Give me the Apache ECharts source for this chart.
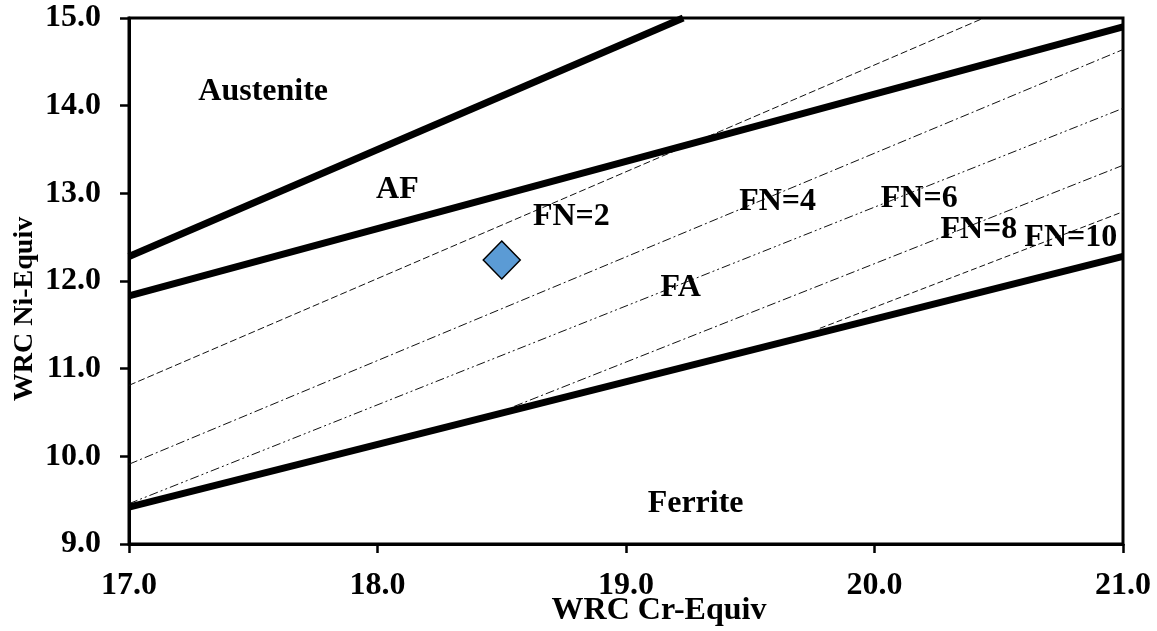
<!DOCTYPE html>
<html>
<head>
<meta charset="utf-8">
<script src="https://cdn.jsdelivr.net/npm/echarts@6/dist/echarts.min.js"></script>
<style>
html,body{margin:0;padding:0;background:#fff;}
#chart{width:1157px;height:631px;}
</style>
</head>
<body>
<div id="chart"></div>
<script>
// Axis ranges / ticks
const xRange = [17, 21];
const yRange = [9, 15];
const tickStep = 1;

// Phase boundaries (thick lines): [Cr-equiv, Ni-equiv]
const boundaryAustAF = [[17, 12.28], [19.23, 15.0]];
const boundaryAFFA = [[17, 11.83], [21, 14.90]];
const boundaryFAFerrite = [[17, 9.42], [21, 12.28]];

// Iso-ferrite-number lines (thin dashed)
const fn2 = [[17, 10.81], [20.44, 15.0]];
const fn4 = [[17, 9.91], [21, 14.64]];
const fn6 = [[17, 9.46], [21, 13.97]];
const fn8 = [[18.55, 10.57], [21, 13.32]];
const fn10 = [[19.78, 11.46], [21, 12.79]];

// Measured weld composition point
const weldPoint = [[18.5, 12.24]];

// Region / FN labels
const labelNames = ['Austenite', 'AF', 'FN=2', 'FN=4', 'FN=6', 'FN=8', 'FN=10', 'FA', 'Ferrite'];
const labelX = [17.54, 18.08, 18.78, 19.61, 20.18, 20.42, 20.79, 19.22, 19.28];
const labelY = [14.16, 13.04, 12.73, 12.90, 12.94, 12.59, 12.49, 11.92, 9.46];

const FONT = '"Liberation Serif", "Times New Roman", serif';

const chart = echarts.init(document.getElementById('chart'), null, {renderer: 'canvas'});

function thick(data) {
  return {type: 'line', data: data, symbol: 'none', silent: true, z: 3,
    lineStyle: {color: '#000', width: 7}};
}
function thin(data, dash) {
  return {type: 'line', data: data, symbol: 'none', silent: true, z: 2,
    lineStyle: {color: '#111', width: 1, type: dash}};
}

const labelData = labelNames.map((n, i) => ({name: n, value: [labelX[i], labelY[i]]}));

chart.setOption({
  animation: false,
  backgroundColor: '#fff',
  grid: {left: 129, right: 34, top: 18, bottom: 87, containLabel: false, outerBoundsMode: 'none',
    show: true, borderColor: '#000', borderWidth: 3, backgroundColor: 'transparent'},
  xAxis: {
    type: 'value', min: xRange[0], max: xRange[1], interval: tickStep,
    name: 'WRC Cr-Equiv', nameLocation: 'middle', nameGap: 51, nameMoveOverlap: false,
    nameTextStyle: {fontFamily: FONT, fontWeight: 'bold', fontSize: 32, color: '#000', padding: [0, 0, 0, 66]},
    axisLine: {lineStyle: {color: '#000', width: 3}},
    axisTick: {show: true, inside: false, length: 9, lineStyle: {color: '#000', width: 2.5}},
    axisLabel: {fontFamily: FONT, fontWeight: 'bold', fontSize: 32, color: '#000', margin: 26,
      formatter: v => v.toFixed(1)},
    splitLine: {show: false}
  },
  yAxis: {
    type: 'value', min: yRange[0], max: yRange[1], interval: tickStep,
    name: 'WRC Ni-Equiv', nameLocation: 'middle', nameGap: 90, nameRotate: 90, nameMoveOverlap: false,
    nameTextStyle: {fontFamily: FONT, fontWeight: 'bold', fontSize: 28, color: '#000', padding: [0, 56, 0, 0]},
    axisLine: {lineStyle: {color: '#000', width: 3}},
    axisTick: {show: true, inside: false, length: 9, lineStyle: {color: '#000', width: 2.5}},
    axisLabel: {fontFamily: FONT, fontWeight: 'bold', fontSize: 32, color: '#000', margin: 28,
      formatter: v => v.toFixed(1)},
    splitLine: {show: false}
  },
  series: [
    thin(fn2, [7, 3]),
    thin(fn4, [9, 3, 2, 3]),
    thin(fn6, [9, 3, 2, 3, 2, 3]),
    thin(fn8, [9, 3, 2, 3]),
    thin(fn10, [6, 3]),
    thick(boundaryAustAF),
    thick(boundaryAFFA),
    thick(boundaryFAFerrite),
    {type: 'scatter', data: weldPoint, symbol: 'diamond', symbolSize: [37, 38], z: 5,
      itemStyle: {color: '#5B9BD5', borderColor: '#000', borderWidth: 1.5, opacity: 1}},
    {type: 'scatter', data: labelData, symbolSize: 0, z: 6, silent: true,
      itemStyle: {opacity: 1},
      label: {show: true, position: 'inside', formatter: p => p.name, opacity: 1,
        fontFamily: FONT, fontWeight: 'bold', fontSize: 32, color: '#000',
        textBorderWidth: 0, textShadowBlur: 0}}
  ]
});
</script>
</body>
</html>
